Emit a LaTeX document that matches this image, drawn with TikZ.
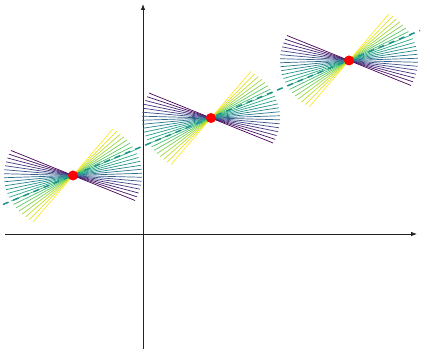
\documentclass[tikz,border=0pt]{standalone}
\usetikzlibrary{arrows.meta}
\definecolor{v0}{HTML}{440154}
\definecolor{v1}{HTML}{472D7B}
\definecolor{v2}{HTML}{3B528B}
\definecolor{v3}{HTML}{2C728E}
\definecolor{v4}{HTML}{21918C}
\definecolor{v5}{HTML}{28AE80}
\definecolor{v6}{HTML}{5EC962}
\definecolor{v7}{HTML}{ADDC30}
\definecolor{v8}{HTML}{FDE725}
\definecolor{v9}{HTML}{FDE725}
\definecolor{axiscol}{HTML}{222222}
\tikzset{
  axisline/.style={draw=axiscol, line width=0.8pt, -{Latex[length=6pt,width=4.5pt]}},
  fanline/.style={line width=0.7pt},
  fitline/.style={draw=v4, line width=1.5pt, dash pattern=on 6pt off 5pt},
  centerdot/.style={circle, fill=red, inner sep=0pt, minimum size=10pt}
}
\begin{document}
\begin{tikzpicture}[x=1pt,y=-1pt]
\useasboundingbox (0,0) rectangle (424,353);
% axes
\coordinate (xl) at (5,234);
\coordinate (xr) at (417,234);
\coordinate (yb) at (143,349);
\coordinate (yt) at (143,4);
\draw[axisline] (xl) -- (xr);
\draw[axisline] (yb) -- (yt);
% fans
\foreach \cx/\cy in {73/175.5, 211/118, 349/60.5}{
  \foreach \i in {0,...,20}{
    \pgfmathsetmacro{\t}{\i/20}
    \pgfmathsetmacro{\ang}{-26+80.7*\t}
    \pgfmathtruncatemacro{\seg}{min(floor(\t*8),7)}
    \pgfmathtruncatemacro{\nxt}{\seg+1}
    \pgfmathtruncatemacro{\pc}{round((\t*8-\seg)*100)}
    \pgfmathsetmacro{\dx}{69*cos(\ang)}
    \pgfmathsetmacro{\dy}{57*sin(\ang)}
    \draw[fanline, color=v\nxt!\pc!v\seg] (\cx-\dx,\cy+\dy) -- (\cx+\dx,\cy-\dy);
  }
}
% fitted line
\coordinate (dl) at (3,204.5);
\coordinate (dr) at (420,30.5);
\draw[fitline] (dl) -- (dr);
% dots
\node[centerdot] (p1) at (73,175.5) {};
\node[centerdot] (p2) at (211,118) {};
\node[centerdot] (p3) at (349,60.5) {};
\end{tikzpicture}
\end{document}
